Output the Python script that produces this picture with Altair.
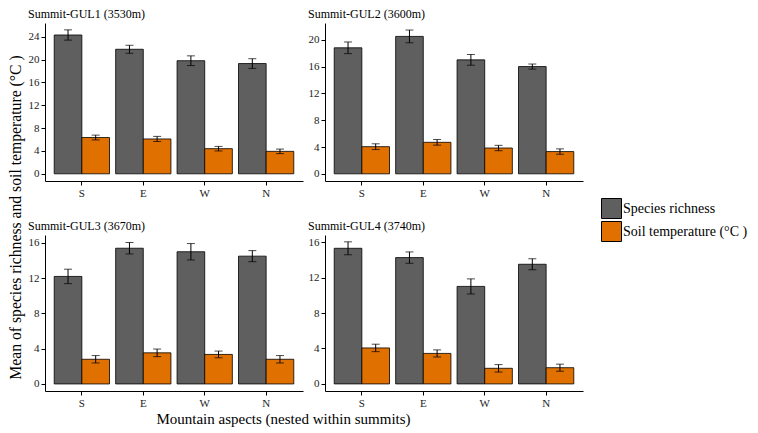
import altair as alt
import pandas as pd

aspects = ["S", "E", "W", "N"]
series = ["Species richness", "Soil temperature (°C )"]
summits = ["Summit-GUL1 (3530m)", "Summit-GUL2 (3600m)", "Summit-GUL3 (3670m)", "Summit-GUL4 (3740m)"]

rich_mean = [[24.3, 21.8, 19.8, 19.3], [18.8, 20.5, 17.0, 16.0], [12.2, 15.4, 15.0, 14.5], [15.3, 14.25, 11.0, 13.5]]
rich_se = [[0.9, 0.7, 0.85, 0.85], [0.87, 0.95, 0.8, 0.38], [0.82, 0.65, 0.93, 0.63], [0.73, 0.64, 0.85, 0.62]]
temp_mean = [[6.35, 6.1, 4.4, 3.93], [4.05, 4.7, 3.85, 3.32], [2.8, 3.53, 3.35, 2.8], [4.06, 3.44, 1.76, 1.83]]
temp_se = [[0.42, 0.45, 0.4, 0.4], [0.43, 0.42, 0.4, 0.4], [0.42, 0.43, 0.38, 0.42], [0.42, 0.4, 0.42, 0.4]]

y_domains = [[-1.26, 26.4], [-1.07, 22.5], [-0.8, 16.9], [-0.8, 16.8]]
y_ticks = [[0, 4, 8, 12, 16, 20, 24], [0, 4, 8, 12, 16, 20], [0, 4, 8, 12, 16], [0, 4, 8, 12, 16]]

GREY = "#5F5F5F"
ORANGE = "#E07000"
FONT = "Liberation Serif"

PW = 258
PH = [158, 158, 156, 156]


def panel(i):
    rows = []
    for j, a in enumerate(aspects):
        for s, m, e in ((series[0], rich_mean[i][j], rich_se[i][j]), (series[1], temp_mean[i][j], temp_se[i][j])):
            rows.append({"aspect": a, "series": s, "mean": m, "lo": m - e, "hi": m + e})
    df = pd.DataFrame(rows)
    xenc = alt.X("aspect:N", sort=aspects, title=None,
                 scale=alt.Scale(paddingInner=0.1, paddingOuter=0.15),
                 axis=alt.Axis(labelAngle=0, labelFont=FONT, labelFontSize=11))
    xoff = alt.XOffset("series:N", sort=series, scale=alt.Scale(paddingInner=0, paddingOuter=0))
    yscale = alt.Scale(domain=y_domains[i], nice=False, zero=False)
    yaxis = alt.Axis(values=y_ticks[i], labelFont=FONT, labelFontSize=11, labelOverlap=False)
    base = alt.Chart(df).encode(x=xenc, xOffset=xoff)
    bars = base.mark_bar(stroke="black", strokeWidth=0.8).encode(
        y=alt.Y("mean:Q", scale=yscale, stack=None, title=None, axis=yaxis),
        y2=alt.datum(0),
        color=alt.Color("series:N", sort=series,
                        scale=alt.Scale(domain=series, range=[GREY, ORANGE]),
                        legend=alt.Legend(title=None, orient="none", legendX=556, legendY=175,
                                          symbolType="square", symbolSize=400,
                                          symbolStrokeColor="black", symbolStrokeWidth=1,
                                          labelFont=FONT, labelFontSize=14, labelColor="black",
                                          rowPadding=-11, labelOffset=1)),
    )
    rule = base.mark_rule(color="black", strokeWidth=1).encode(
        y=alt.Y("lo:Q", scale=yscale, title=None, axis=yaxis), y2="hi:Q")
    cap_lo = base.mark_tick(color="black", orient="horizontal", size=8, thickness=1).encode(
        y=alt.Y("lo:Q", scale=yscale, title=None, axis=yaxis))
    cap_hi = base.mark_tick(color="black", orient="horizontal", size=8, thickness=1).encode(
        y=alt.Y("hi:Q", scale=yscale, title=None, axis=yaxis))
    return alt.layer(bars, rule, cap_lo, cap_hi).properties(
        width=PW, height=PH[i],
        title=alt.TitleParams(summits[i], anchor="start", font=FONT, fontSize=12,
                              fontWeight="normal", color="black", offset=2))


row1 = alt.hconcat(panel(0), panel(1), spacing=5)
row2 = alt.hconcat(panel(2), panel(3), spacing=5)
inner = alt.vconcat(row1, row2, spacing=22).properties(
    title=alt.TitleParams("Mountain aspects (nested within summits)", orient="bottom",
                          anchor="middle", font=FONT, fontSize=15, fontWeight="normal",
                          color="black", offset=4, dx=-22))
chart = alt.hconcat(inner).properties(
    title=alt.TitleParams("Mean of species richness and soil temperature  (°C )", orient="left",
                          anchor="middle", font=FONT, fontSize=15.7, fontWeight="normal",
                          color="black", offset=3)
).configure(padding=0).configure_view(stroke=None).configure_axis(
    grid=False, domainColor="black", domainWidth=1, tickColor="black", tickSize=4,
    labelFont=FONT, labelFontSize=11, labelColor="#222222", labelPadding=2
)

chart.save("out.html", embed_options={"renderer": "svg", "actions": False})
